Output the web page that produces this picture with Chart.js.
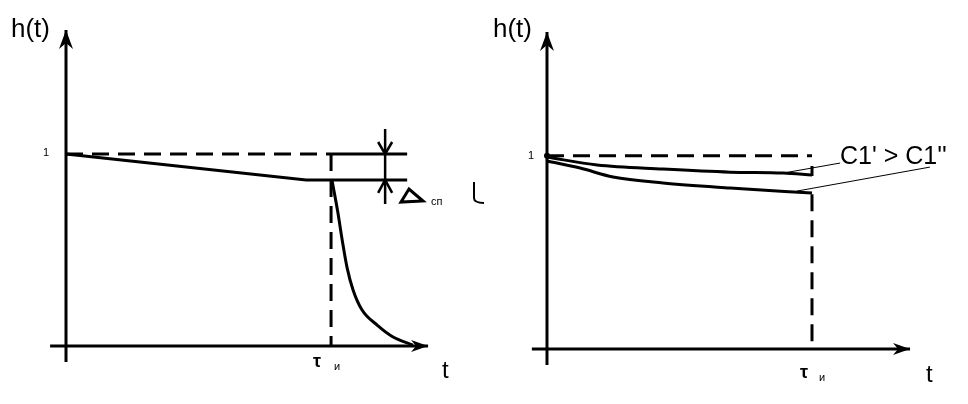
<!DOCTYPE html>
<html>
<head>
<meta charset="utf-8">
<script src="https://cdn.jsdelivr.net/npm/chart.js@4"></script>
<style>
  body { margin: 0; background: #fff; width: 968px; height: 404px; position: relative; overflow: hidden; }
  canvas { position: absolute; top: 0; }
</style>
</head>
<body>
<canvas id="left" width="484" height="404" style="left:0"></canvas>
<canvas id="right" width="484" height="404" style="left:484px"></canvas>
<script>
// ---- left panel: h(t) with the sharp drop after tau ----
var axisT_L = [-0.06, 1.366];
var axisH_L = [-0.083, 1.646];
var leftRefT = [0, 1];              // dashed level h = 1
var leftMarkT = [1, 1.287];         // solid h = 1 out to the delta marker
var leftTopT = [0, 0.906, 1.287];
var leftTopH = [1, 0.865, 0.865];
var leftDropT = [1.004, 1.026, 1.042, 1.06, 1.083, 1.117, 1.174, 1.234, 1.309];
var leftDropH = [0.86, 0.693, 0.552, 0.411, 0.292, 0.1875, 0.109, 0.047, 0.005];
var deltaT = 1.204;
var deltaH = [1.13, 0.74];

// ---- right panel: two curves for C1' > C1'' ----
var axisT_R = [-0.057, 1.37];
var axisH_R = [-0.083, 1.64];
var rightRefT = [0, 1];
var upperT = [0, 0.189, 0.438, 0.691, 0.891, 1];
var upperH = [0.993, 0.952, 0.931, 0.915, 0.910, 0.900];
var lowerT = [0, 0.125, 0.249, 0.438, 0.691, 1];
var lowerH = [0.973, 0.936, 0.890, 0.859, 0.833, 0.807];
var tauBarH = [0.947, 0.895];
var tauDashH = [0.80, 0];
var lead1T = [0.891, 1.106], lead1H = [0.910, 0.962];
var lead2T = [0.943, 1.445], lead2H = [0.817, 0.941];

var FONT = "'Liberation Sans', Arial, sans-serif";

function pts(ts, hs) {
  var out = [];
  for (var i = 0; i < ts.length; i++) out.push({x: ts[i], y: hs[i]});
  return out;
}
function line(data, opts) {
  var d = {data: data, showLine: true, borderColor: '#000', borderWidth: 3,
           pointRadius: 0, fill: false, tension: 0};
  for (var k in opts) d[k] = opts[k];
  return d;
}
var DASH = [17, 9];

function arrowUp(ctx, x, y) {
  ctx.beginPath();
  ctx.moveTo(x, y); ctx.lineTo(x - 7, y + 19); ctx.lineTo(x, y + 13); ctx.lineTo(x + 7, y + 19);
  ctx.closePath(); ctx.fill();
}
function arrowRight(ctx, x, y) {
  ctx.beginPath();
  ctx.moveTo(x, y); ctx.lineTo(x - 17, y - 6); ctx.lineTo(x - 12, y); ctx.lineTo(x - 17, y + 6);
  ctx.closePath(); ctx.fill();
}
function txt(ctx, s, x, y, size, bold) {
  ctx.font = (bold ? 'bold ' : '') + size + 'px ' + FONT;
  ctx.fillText(s, x, y);
}

function makeChart(id, datasets, xr, yr, extras) {
  return new Chart(document.getElementById(id), {
    type: 'scatter',
    data: {datasets: datasets},
    options: {
      responsive: false,
      animation: false,
      layout: {padding: 0},
      scales: {
        x: {type: 'linear', display: false, min: xr[0], max: xr[1]},
        y: {type: 'linear', display: false, min: yr[0], max: yr[1]}
      },
      plugins: {legend: {display: false}, tooltip: {enabled: false}}
    },
    plugins: [{id: 'extras', afterDatasetsDraw: function (chart) {
      var ctx = chart.ctx;
      ctx.save();
      ctx.fillStyle = '#000'; ctx.strokeStyle = '#000';
      ctx.textBaseline = 'alphabetic';
      extras(ctx, chart.scales.x, chart.scales.y);
      ctx.restore();
    }}]
  });
}

// left chart
makeChart('left', [
  line(pts([0, 0], axisH_L)),
  line(pts(axisT_L, [0, 0])),
  line(pts(leftRefT, [1, 1]), {borderDash: DASH}),
  line(pts(leftMarkT, [1, 1])),
  line(pts(leftTopT, leftTopH)),
  line(pts([1, 1], [1, 0]), {borderDash: DASH}),
  line(pts(leftDropT, leftDropH), {cubicInterpolationMode: 'monotone'}),
  line(pts([deltaT, deltaT], deltaH), {borderWidth: 2.5})
], [-0.249, 1.577], [-0.302, 1.802], function (ctx, xs, ys) {
  var x0 = xs.getPixelForValue(0), y0 = ys.getPixelForValue(0);
  arrowUp(ctx, x0, ys.getPixelForValue(axisH_L[1]));
  arrowRight(ctx, xs.getPixelForValue(axisT_L[1]), y0);
  // delta marker arrows
  var dx = xs.getPixelForValue(deltaT);
  var yTop = ys.getPixelForValue(1), yBot = ys.getPixelForValue(leftTopH[2]);
  ctx.lineWidth = 2.5;
  ctx.beginPath();
  ctx.moveTo(dx - 7, yTop - 12); ctx.lineTo(dx, yTop); ctx.lineTo(dx + 7, yTop - 12);
  ctx.moveTo(dx - 7, yBot + 13); ctx.lineTo(dx, yBot); ctx.lineTo(dx + 7, yBot + 13);
  ctx.stroke();
  // triangle (delta)
  ctx.lineWidth = 3;
  ctx.beginPath();
  ctx.moveTo(401, 202); ctx.lineTo(409, 189); ctx.lineTo(423, 201); ctx.closePath();
  ctx.stroke();
  txt(ctx, 'сп', 431, 205, 11);
  // stray mark
  ctx.lineWidth = 2;
  ctx.beginPath();
  ctx.moveTo(474, 182); ctx.lineTo(474, 198); ctx.quadraticCurveTo(474, 203, 485, 203);
  ctx.stroke();
  txt(ctx, 'h(t)', 11, 37, 26);
  txt(ctx, '1', 43, 156, 11);
  txt(ctx, 'τ', 313, 367, 18, true);
  txt(ctx, 'и', 334, 370, 11);
  txt(ctx, 't', 442, 378, 24);
});

// right chart
makeChart('right', [
  line(pts([0, 0], axisH_R)),
  line(pts(axisT_R, [0, 0])),
  line(pts(rightRefT, [1, 1]), {borderDash: DASH}),
  line(pts(upperT, upperH), {cubicInterpolationMode: 'monotone'}),
  line(pts(lowerT, lowerH), {cubicInterpolationMode: 'monotone'}),
  line(pts([1, 1], tauBarH)),
  line(pts([1, 1], tauDashH), {borderDash: DASH}),
  line(pts(lead1T, lead1H), {borderWidth: 1}),
  line(pts(lead2T, lead2H), {borderWidth: 1})
], [-0.2377, 1.5887], [-0.2845, 1.8055], function (ctx, xs, ys) {
  var x0 = xs.getPixelForValue(0), y0 = ys.getPixelForValue(0);
  arrowUp(ctx, x0, ys.getPixelForValue(axisH_R[1]));
  arrowRight(ctx, xs.getPixelForValue(axisT_R[1]), y0);
  ctx.beginPath(); ctx.arc(x0, ys.getPixelForValue(1), 3, 0, Math.PI * 2); ctx.fill();
  txt(ctx, 'h(t)', 9, 37, 26);
  txt(ctx, '1', 44, 159, 11);
  txt(ctx, "C1' > C1''", 356, 164, 25);
  txt(ctx, 'τ', 316, 378, 18, true);
  txt(ctx, 'и', 335, 381, 11);
  txt(ctx, 't', 442, 382, 24);
});
</script>
</body>
</html>
